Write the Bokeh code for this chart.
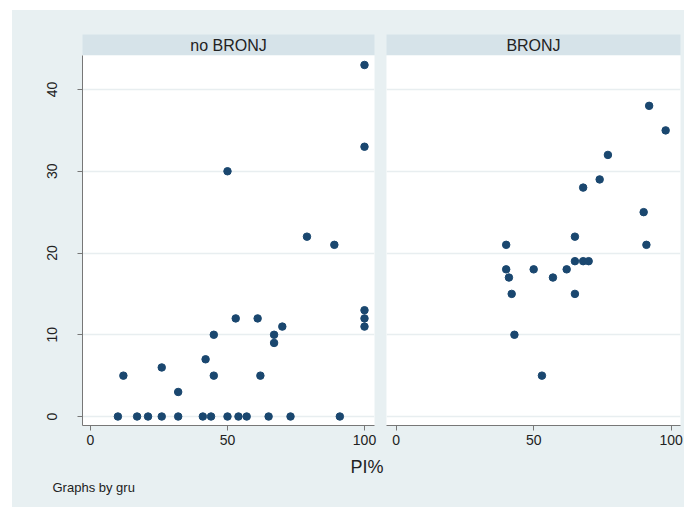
from bokeh.plotting import figure
from bokeh.layouts import column, row, Spacer
from bokeh.models import ColumnDataSource, FixedTicker, Range1d
from bokeh.core.properties import value
from bokeh.embed import file_html
from bokeh.resources import INLINE

# PI% (x) against the outcome (y), split by group
panel_titles = ["no BRONJ", "BRONJ"]

no_bronj_pi = [100, 100, 50, 79, 89, 100, 100, 100, 53, 61, 70, 67, 67, 45, 42, 45, 62, 12, 26, 32,
               10, 17, 21, 26, 32, 41, 44, 50, 54, 57, 65, 73, 91]
no_bronj_val = [43, 33, 30, 22, 21, 13, 12, 11, 12, 12, 11, 10, 9, 10, 7, 5, 5, 5, 6, 3,
                0, 0, 0, 0, 0, 0, 0, 0, 0, 0, 0, 0, 0]

bronj_pi = [92, 98, 77, 74, 68, 90, 91, 65, 40, 65, 68, 70, 40, 50, 62, 41, 57, 42, 65, 43, 53]
bronj_val = [38, 35, 32, 29, 28, 25, 21, 22, 21, 19, 19, 19, 18, 18, 18, 17, 17, 15, 15, 10, 5]

x_ticks = [0, 50, 100]
y_ticks = [0, 10, 20, 30, 40]
x_title = "PI%"
note = "Graphs by gru"

BG = "#e8f0f2"
STRIP = "#d6e3e9"
NAVY = "#1a476f"
AXIS = "#777777"
GRID = "#e8eef0"
FONT = "Liberation Sans"
BG_STYLE = {"background-color": BG}


def header(title, width, left, right):
    h = figure(width=width, height=45, x_range=(0, 1), y_range=(0, 1),
               x_axis_type=None, y_axis_type=None, toolbar_location=None,
               output_backend="svg", min_border_left=left, min_border_right=right,
               min_border_top=24, min_border_bottom=0, styles=BG_STYLE)
    h.background_fill_color = STRIP
    h.border_fill_color = BG
    h.outline_line_color = None
    h.grid.visible = False
    h.text(x=[0.5], y=[0.5], text=[title], text_align="center", text_baseline="middle",
           text_font=value(FONT), text_font_size="16px", text_color="#222222")
    return h


def panel(xs, ys, width, left, right, xr, show_y):
    p = figure(width=width, height=400, x_range=Range1d(*xr), y_range=Range1d(-1.1, 44.16),
               toolbar_location=None, output_backend="svg",
               min_border_left=left, min_border_right=right,
               min_border_top=0, min_border_bottom=30, styles=BG_STYLE)
    p.background_fill_color = "white"
    p.border_fill_color = BG
    p.outline_line_color = None
    p.xgrid.visible = False
    p.ygrid.ticker = FixedTicker(ticks=y_ticks)
    p.ygrid.grid_line_color = GRID
    p.ygrid.grid_line_width = 1.5

    ax = p.xaxis[0]
    ax.ticker = FixedTicker(ticks=x_ticks)
    ax.axis_line_color = AXIS
    ax.major_tick_line_color = AXIS
    ax.major_tick_out = 5
    ax.major_tick_in = 0
    ax.minor_tick_line_color = None
    ax.major_label_standoff = 4
    ax.major_label_text_font = FONT
    ax.major_label_text_font_size = "14px"
    ax.major_label_text_color = "#222222"

    ay = p.yaxis[0]
    if show_y:
        ay.ticker = FixedTicker(ticks=y_ticks)
        ay.axis_line_color = AXIS
        ay.major_tick_line_color = AXIS
        ay.major_tick_out = 5
        ay.major_tick_in = 0
        ay.minor_tick_line_color = None
        ay.major_label_orientation = "vertical"
        ay.major_label_standoff = 20
        ay.major_label_text_font = FONT
        ay.major_label_text_font_size = "14px"
        ay.major_label_text_color = "#222222"
    else:
        ay.visible = False

    src = ColumnDataSource(dict(x=xs, y=ys))
    p.scatter("x", "y", source=src, size=7.5, fill_color=NAVY, line_color=NAVY)
    return p


left_h = header(panel_titles[0], 368, 70, 6)
left_p = panel(no_bronj_pi, no_bronj_val, 368, 70, 6, (-2.92, 103.65), True)
right_h = header(panel_titles[1], 304, 6, 4)
right_p = panel(bronj_pi, bronj_val, 304, 6, 4, (-3.53, 103.4), False)

# strip below the panels: x title and the by-note
bottom = figure(width=672, height=52, x_range=(0, 672), y_range=(0, 52),
                x_axis_type=None, y_axis_type=None, toolbar_location=None,
                output_backend="svg", min_border=0, styles=BG_STYLE)
bottom.background_fill_color = BG
bottom.border_fill_color = BG
bottom.outline_line_color = None
bottom.grid.visible = False
bottom.text(x=[354.5], y=[41], text=[x_title], text_align="center", text_baseline="middle",
            text_font=value(FONT), text_font_size="18px", text_color="#222222")
bottom.text(x=[40], y=[20], text=[note], text_align="left", text_baseline="middle",
            text_font=value(FONT), text_font_size="13px", text_color="#222222")

left_col = column(left_h, left_p, styles=BG_STYLE)
right_col = column(right_h, right_p, styles=BG_STYLE)
body = column(row(left_col, right_col, styles=BG_STYLE), bottom, styles=BG_STYLE)
layout = column(Spacer(height=10), row(Spacer(width=12), body))

open("out.html", "w").write(file_html(layout, INLINE))
